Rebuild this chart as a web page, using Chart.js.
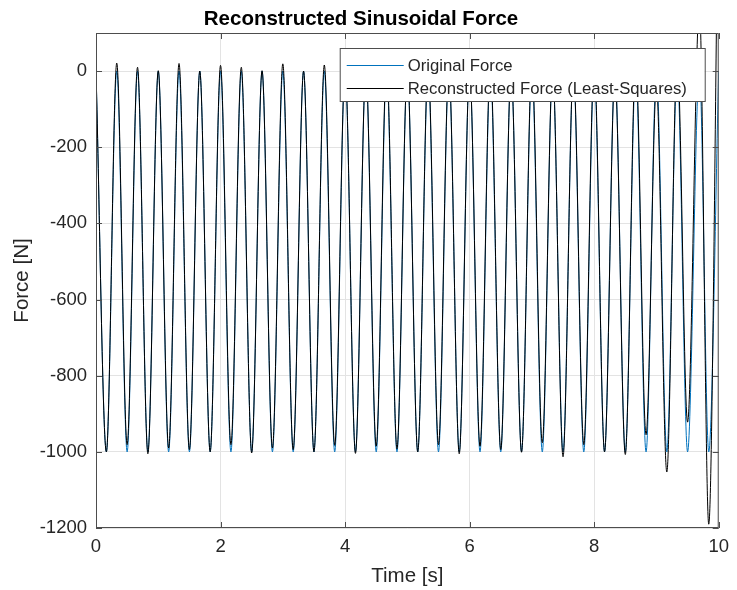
<!DOCTYPE html>
<html>
<head>
<meta charset="utf-8">
<title>Reconstructed Sinusoidal Force</title>
<script src="https://cdn.jsdelivr.net/npm/chart.js@4.4.1/dist/chart.umd.min.js"></script>
<style>
  html, body { margin: 0; padding: 0; background: #fff; }
  #wrap { width: 737px; height: 590px; }
</style>
</head>
<body>
<div id="wrap"><canvas id="forceChart" width="737" height="590"></canvas></div>
<script>
// Extremum times of the signal [s] (peaks and troughs)
const times = [
  0, 0.1667, 0.3333, 0.5, 0.6667, 0.8333, 1, 1.1667, 1.3333, 1.5, 1.6667, 1.8333,
  2, 2.1667, 2.3333, 2.5, 2.6667, 2.8333, 3, 3.1667, 3.3333, 3.5, 3.6667, 3.8333,
  4, 4.1667, 4.3333, 4.5, 4.6667, 4.8333, 5, 5.1667, 5.3333, 5.5, 5.6667, 5.8333,
  6, 6.1667, 6.3333, 6.5, 6.6667, 6.8333, 7, 7.1667, 7.3333, 7.5, 7.6667, 7.8333,
  8, 8.1667, 8.3333, 8.5, 8.6667, 8.8333, 9, 9.1667, 9.3333, 9.5, 9.69, 9.84, 10
];

// Original force [N] at those times
const originalForce = [
  0, -1000, 0, -1000, 0, -1000, 0, -1000, 0, -1000, 0, -1000,
  0, -1000, 0, -1000, 0, -1000, 0, -1000, 0, -1000, 0, -1000,
  0, -1000, 0, -1000, 0, -1000, 0, -1000, 0, -1000, 0, -1000,
  0, -1000, 0, -1000, 0, -1000, 0, -1000, 0, -1000, 0, -1000,
  0, -1000, 0, -1000, 0, -1000, 0, -1000, 0, -1000, 0, -1000, 0
];

// Least-squares reconstruction [N] at the same times
const reconstructedForce = [
  0, -1000, 21, -981, 10, -1005, 1, -990, 20, -994, 0, -1000,
  15, -981, 10, -1003, 1, -990, 19, -994, 0, -1000, 16, -983,
  8, -1004, 3, -985, 18, -992, 2, -1000, 14, -981, 9, -1005,
  2, -985, 19, -994, 0, -1001, 18, -976, 6, -1013, 8, -981,
  22, -1000, -8, -1007, 30, -955, -40, -1053, 40, -922, 170, -1190, 600
];

const xTicks = [0, 2, 4, 6, 8, 10];
const yTicks = [-1200, -1000, -800, -600, -400, -200, 0];

const seriesLabels = ['Original Force', 'Reconstructed Force (Least-Squares)'];

const FONT = '"Liberation Sans", Arial, Helvetica, sans-serif';
const TEXT = '#262626';
Chart.defaults.font.family = FONT;
Chart.defaults.color = TEXT;

function toPoints(values) {
  return values.map((v, i) => ({ x: times[i], y: v }));
}

// axes box + inward ticks, like matlab
const boxTicks = {
  id: 'boxTicks',
  afterDraw(chart) {
    const { ctx, chartArea: a, scales: { x, y } } = chart;
    ctx.save();
    ctx.strokeStyle = '#4d4d4d';
    ctx.lineWidth = 1;
    ctx.strokeRect(a.left + 0.5, a.top + 0.5, a.right - a.left - 1, a.bottom - a.top - 1);
    ctx.beginPath();
    x.ticks.forEach(t => {
      const px = Math.round(x.getPixelForValue(t.value)) + 0.5;
      ctx.moveTo(px, a.bottom); ctx.lineTo(px, a.bottom - 6);
      ctx.moveTo(px, a.top); ctx.lineTo(px, a.top + 6);
    });
    y.ticks.forEach(t => {
      const py = Math.round(y.getPixelForValue(t.value)) + 0.5;
      ctx.moveTo(a.left, py); ctx.lineTo(a.left + 6, py);
      ctx.moveTo(a.right, py); ctx.lineTo(a.right - 6, py);
    });
    ctx.stroke();
    ctx.restore();
  }
};

// legend box inside the top right corner of the axes
const legendBox = {
  id: 'legendBox',
  afterDatasetsDraw(chart) {
    const { ctx, chartArea: a } = chart;
    const w = 365, h = 53;
    const left = a.right - 14 - w;
    const top = a.top + 15;
    ctx.save();
    ctx.fillStyle = '#fff';
    ctx.fillRect(left, top, w, h);
    ctx.strokeStyle = '#4d4d4d';
    ctx.lineWidth = 1;
    ctx.strokeRect(left + 0.5, top + 0.5, w, h);
    ctx.font = '16.7px ' + FONT;
    ctx.textBaseline = 'middle';
    seriesLabels.forEach((label, i) => {
      const ds = chart.data.datasets.find(d => d.label === label);
      const rowY = Math.round(top + 17 + i * 23) + 0.5;
      ctx.strokeStyle = ds.borderColor;
      ctx.lineWidth = 1.2;
      ctx.beginPath();
      ctx.moveTo(left + 7, rowY);
      ctx.lineTo(left + 64, rowY);
      ctx.stroke();
      ctx.fillStyle = TEXT;
      ctx.fillText(label, left + 68, rowY + 1);
    });
    ctx.restore();
  }
};

new Chart(document.getElementById('forceChart'), {
  type: 'line',
  data: {
    datasets: [
      {
        label: seriesLabels[1],
        data: toPoints(reconstructedForce),
        borderColor: '#000000',
        borderWidth: 1,
        pointRadius: 0,
        cubicInterpolationMode: 'monotone',
        order: 0
      },
      {
        label: seriesLabels[0],
        data: toPoints(originalForce),
        borderColor: '#0072BD',
        borderWidth: 1,
        pointRadius: 0,
        cubicInterpolationMode: 'monotone',
        order: 1
      }
    ]
  },
  options: {
    responsive: false,
    animation: false,
    events: [],
    layout: { padding: { top: 0, right: 15, bottom: 0, left: 0 } },
    plugins: {
      legend: { display: false },
      tooltip: { enabled: false },
      title: {
        display: true,
        text: 'Reconstructed Sinusoidal Force',
        color: '#000',
        font: { size: 20.5, weight: 'bold' },
        padding: { top: 7, bottom: 1.4 }
      }
    },
    scales: {
      x: {
        type: 'linear',
        min: 0,
        max: 10,
        afterBuildTicks: s => { s.ticks = xTicks.map(v => ({ value: v })); },
        afterFit: s => { s.height = 62; },
        grid: { color: '#e3e3e3', drawTicks: false },
        border: { display: false },
        ticks: { padding: 8, font: { size: 18.5 }, color: TEXT, callback: v => String(v) },
        title: {
          display: true,
          text: 'Time [s]',
          font: { size: 20.5 },
          color: TEXT,
          padding: { top: 0, bottom: 1 }
        }
      },
      y: {
        type: 'linear',
        min: -1200,
        max: 100,
        afterBuildTicks: s => { s.ticks = yTicks.map(v => ({ value: v })); },
        afterFit: s => { s.width = 96; },
        grid: { color: '#e3e3e3', drawTicks: false },
        border: { display: false },
        ticks: { padding: 9, font: { size: 18.5 }, color: TEXT, callback: v => String(v) },
        title: {
          display: true,
          text: 'Force [N]',
          font: { size: 20.5 },
          color: TEXT,
          padding: { top: 10, bottom: 0 }
        }
      }
    }
  },
  plugins: [legendBox, boxTicks]
});
</script>
</body>
</html>
